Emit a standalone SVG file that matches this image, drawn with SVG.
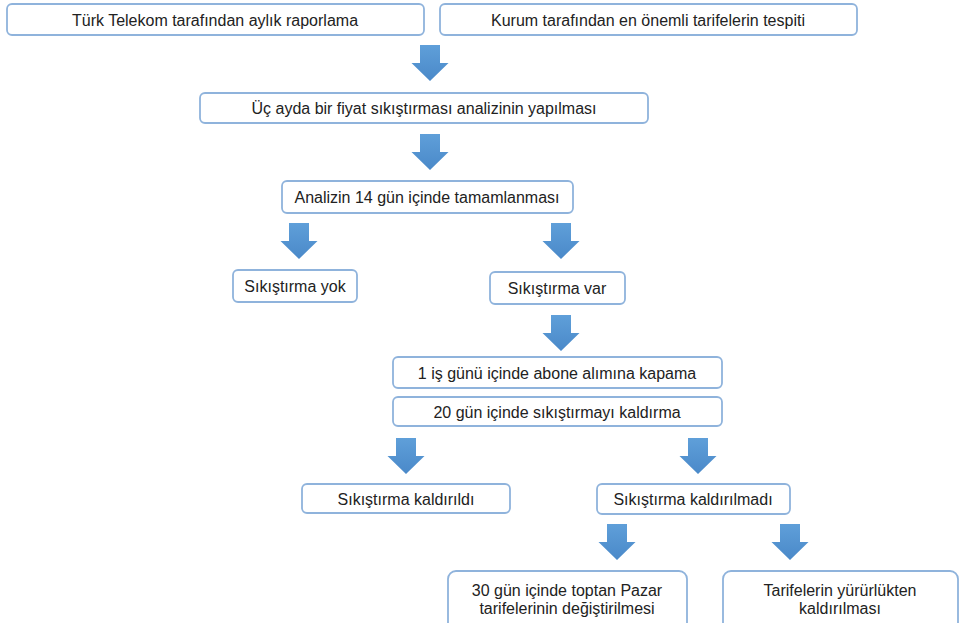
<svg xmlns="http://www.w3.org/2000/svg" xmlns:xlink="http://www.w3.org/1999/xlink" width="962" height="623" viewBox="0 0 962 623">
<style>
.box{fill:#ffffff;stroke:#8fb3dc;stroke-width:1.8}
.t{font-family:"Liberation Sans",Arial,sans-serif;font-size:16px;fill:#222222;text-anchor:middle}
.arr{fill:url(#ag)}
</style>
<defs>
<linearGradient id="ag" x1="0" y1="0" x2="0" y2="1">
<stop offset="0" stop-color="#5f9fd9"/>
<stop offset="1" stop-color="#4a89c9"/>
</linearGradient>
<path id="arrow" class="arr" d="M-10,0 H10 V18 H18.5 L0,36 L-18.5,18 H-10 Z"/>
</defs>
<rect width="962" height="623" fill="#ffffff"/>
<g id="connectors">
<use xlink:href="#arrow" href="#arrow" transform="translate(430,45)"/>
<use xlink:href="#arrow" href="#arrow" transform="translate(430,134)"/>
<use xlink:href="#arrow" href="#arrow" transform="translate(299,223)"/>
<use xlink:href="#arrow" href="#arrow" transform="translate(561,223)"/>
<use xlink:href="#arrow" href="#arrow" transform="translate(561,315)"/>
<use xlink:href="#arrow" href="#arrow" transform="translate(406,438)"/>
<use xlink:href="#arrow" href="#arrow" transform="translate(698,438)"/>
<use xlink:href="#arrow" href="#arrow" transform="translate(617,524)"/>
<use xlink:href="#arrow" href="#arrow" transform="translate(790,524)"/>
</g>
<g id="n1"><rect class="box" x="7" y="4" width="417" height="31" rx="5"/><text class="t" x="215" y="25.5">Türk Telekom tarafından aylık raporlama</text></g>
<g id="n2"><rect class="box" x="440" y="4" width="417" height="31" rx="5"/><text class="t" x="648" y="25.5">Kurum tarafından en önemli tarifelerin tespiti</text></g>
<g id="n3"><rect class="box" x="200" y="93" width="448" height="30" rx="5"/><text class="t" x="424" y="113.5">Üç ayda bir fiyat sıkıştırması analizinin yapılması</text></g>
<g id="n4"><rect class="box" x="282" y="181" width="291" height="32" rx="5"/><text class="t" x="427" y="202.5">Analizin 14 gün içinde tamamlanması</text></g>
<g id="n5"><rect class="box" x="233" y="270" width="124" height="32" rx="5"/><text class="t" x="295" y="291.5">Sıkıştırma yok</text></g>
<g id="n6"><rect class="box" x="490" y="272" width="135" height="32" rx="5"/><text class="t" x="557" y="293.5">Sıkıştırma var</text></g>
<g id="n7"><rect class="box" x="393" y="357" width="329" height="31" rx="5"/><text class="t" x="557" y="378.5">1 iş günü içinde abone alımına kapama</text></g>
<g id="n8"><rect class="box" x="393" y="397" width="329" height="29" rx="5"/><text class="t" x="557" y="417.5">20 gün içinde sıkıştırmayı kaldırma</text></g>
<g id="n9"><rect class="box" x="302" y="484" width="208" height="29" rx="5"/><text class="t" x="406" y="504.5">Sıkıştırma kaldırıldı</text></g>
<g id="n10"><rect class="box" x="597" y="484" width="193" height="30" rx="5"/><text class="t" x="693" y="504.5">Sıkıştırma kaldırılmadı</text></g>
<g id="n11"><rect class="box" x="448" y="571" width="239" height="62" rx="8"/><text class="t" x="567" y="596">30 gün içinde toptan Pazar</text><text class="t" x="567" y="614">tarifelerinin değiştirilmesi</text></g>
<g id="n12"><rect class="box" x="723" y="571" width="235" height="62" rx="8"/><text class="t" x="840" y="596">Tarifelerin yürürlükten</text><text class="t" x="840" y="614">kaldırılması</text></g>
</svg>
